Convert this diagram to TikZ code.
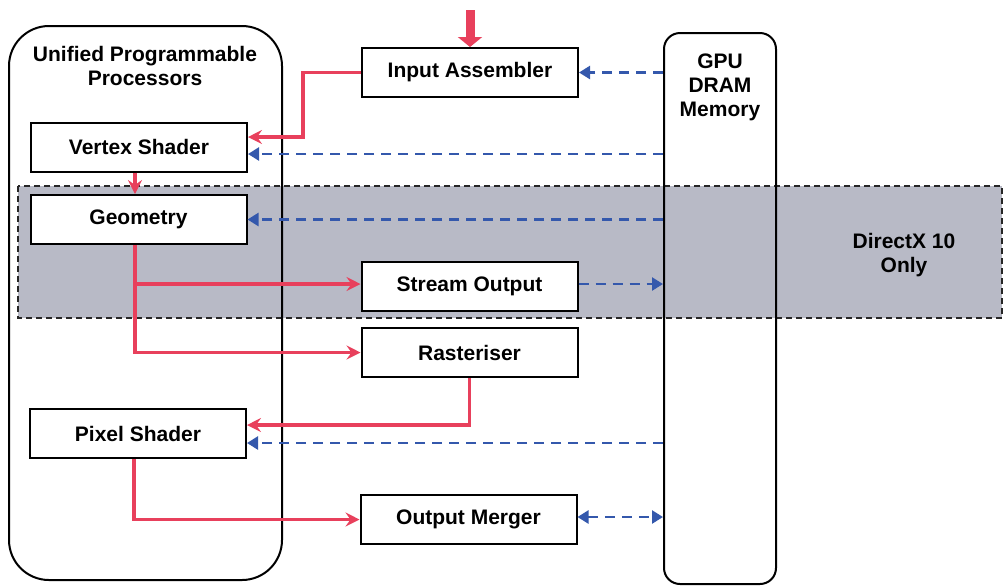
\documentclass[tikz,border=0pt]{standalone}
\usepackage{fontspec}
\setmainfont{Liberation Sans}
\usetikzlibrary{arrows.meta}
\definecolor{pipered}{RGB}{232,64,92}
\definecolor{memblue}{RGB}{52,88,172}
\definecolor{bandgray}{RGB}{184,186,198}
\begin{document}
\begin{tikzpicture}[x=0.5pt, y=-0.5pt,
    every node/.style={font=\fontsize{10.5}{12}\selectfont\bfseries, text=black},
    stage/.style={draw, line width=1pt, fill=white, minimum width=108pt, minimum height=24.5pt, inner sep=0pt},
    holder/.style={draw, line width=1pt, inner sep=0pt},
    redflow/.style={pipered, line width=1.8pt, -{Stealth[length=7pt, width=7pt, inset=2.5pt]}},
    memflow/.style={memblue, line width=1.2pt, dash pattern=on 5pt off 3.5pt, -{Triangle[length=5.5pt, width=6.5pt]}},
    memboth/.style={memflow, {Triangle[length=5.5pt, width=6.5pt]}-{Triangle[length=5.5pt, width=6.5pt]}}]
    \useasboundingbox (0,0) rectangle (1008,586);

    % DirectX 10 pas
    \filldraw[fill=bandgray, draw=black!85, line width=1pt, dash pattern=on 3pt off 2pt] (18,186) rectangle (1002,318);
    \node (dxLabel) [align=center] at (904,255) {DirectX 10\\Only};

    % Kontejnery
    \node (proc) [holder, rounded corners=20pt, minimum width=136.5pt, minimum height=277pt] at (145.5,303) {};
    \node (procLabel) [align=center] at (145,66) {Unified Programmable\\Processors};
    \node (gpu) [holder, rounded corners=8pt, minimum width=56pt, minimum height=275.5pt] at (720,308.5) {};
    \node (gpuLabel) [align=center] at (720,87) {GPU\\DRAM\\Memory};

    % Shadery
    \node (vs) [stage] at (139,147) {Vertex Shader};
    \node (geo) [stage] at (138.5,219.5) {Geometry};
    \node (ps) [stage] at (138,433.5) {Pixel Shader};

    % Pevne bloky
    \node (ia) [stage] at (470,72.5) {Input Assembler};
    \node (so) [stage] at (469.5,286) {Stream Output};
    \node (ras) [stage] at (469.5,352.5) {Rasteriser};
    \node (om) [stage] at (468.5,519.5) {Output Merger};

    % Vstup
    \coordinate (feed) at (470,10);
    \draw[pipered, line width=4.5pt, -{Triangle[length=5pt, width=12pt]}] (feed) -- (ia.north);

    % Datovy tok (cervena)
    \draw[redflow] (ia.west) -| (303,137) -- (vs.east |- 0,137);
    \draw[redflow] (vs.south -| 135,0) -- (geo.north -| 135,0);
    \draw[redflow] (geo.south -| 135,0) |- (ras.west);
    \draw[redflow] (135,284) -- (so.west |- 0,284);
    \draw[redflow] (ras.south) |- (ps.east |- 0,425);
    \draw[redflow] (ps.south -| 134,0) |- (om.west);

    % Pamet (modra)
    \draw[memflow] (gpu.west |- ia.east) -- (ia.east);
    \draw[memflow] (gpu.west |- 0,154) -- (vs.east |- 0,154);
    \draw[memflow] (gpu.west |- geo.east) -- (geo.east);
    \draw[memflow] (so.east |- 0,284) -- (gpu.west |- 0,284);
    \draw[memflow] (gpu.west |- 0,443) -- (ps.east |- 0,443);
    \draw[memboth] (om.east |- 0,517) -- (gpu.west |- 0,517);

\end{tikzpicture}
\end{document}
